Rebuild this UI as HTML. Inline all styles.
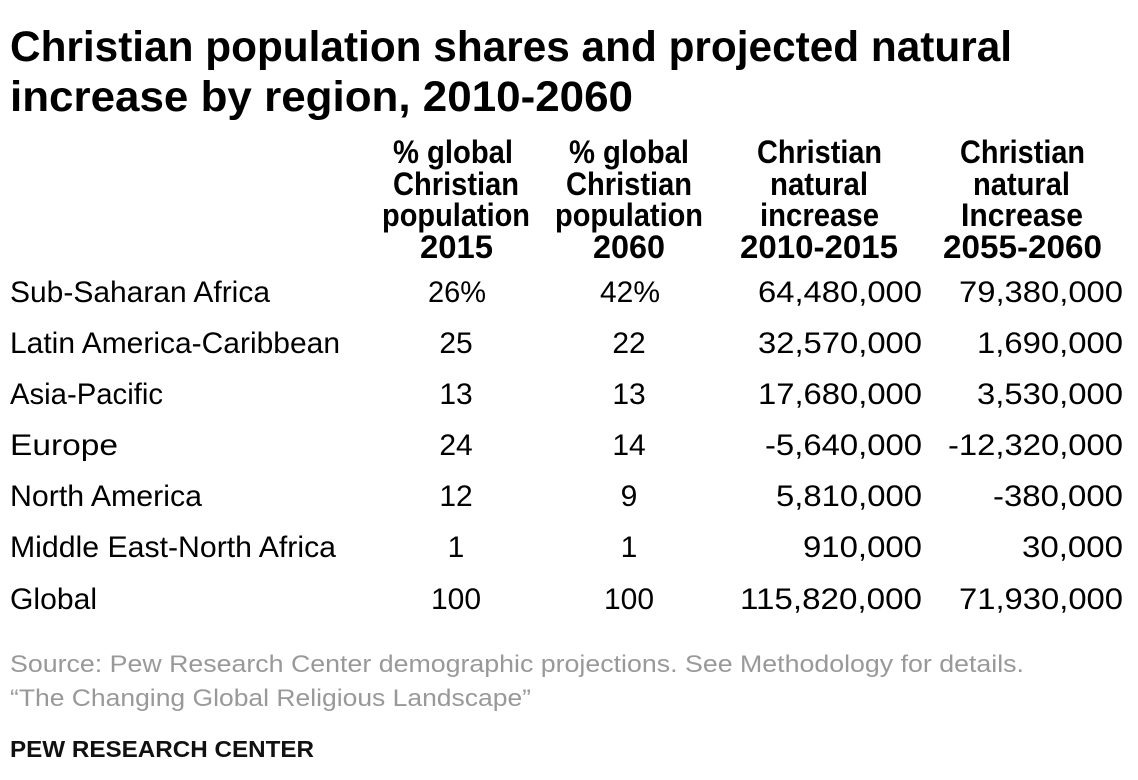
<!DOCTYPE html>
<html><head><meta charset="utf-8"><style>
html,body{margin:0;padding:0;background:#fff;}
svg{display:block;}
text{font-family:"Liberation Sans",Arial,sans-serif;fill:#000;}
.t{font-weight:bold;font-size:43px;}
.h{font-weight:bold;font-size:32px;}
.d{font-size:30px;}
.s{font-size:24px;fill:#999;}
.p{font-weight:bold;font-size:23px;fill:#111;}
</style></head><body>
<svg width="1138" height="780" viewBox="0 0 1138 780" xmlns="http://www.w3.org/2000/svg">
<text class="t" x="10" y="61" textLength="1002" lengthAdjust="spacingAndGlyphs">Christian population shares and projected natural</text>
<text class="t" x="10" y="111" textLength="623" lengthAdjust="spacingAndGlyphs">increase by region, 2010-2060</text>

<text class="h" x="393" y="163" textLength="120" lengthAdjust="spacingAndGlyphs">% global</text>
<text class="h" x="393" y="195" textLength="126" lengthAdjust="spacingAndGlyphs">Christian</text>
<text class="h" x="382" y="226" textLength="148" lengthAdjust="spacingAndGlyphs">population</text>
<text class="h" x="420" y="258" textLength="73" lengthAdjust="spacingAndGlyphs">2015</text>

<text class="h" x="569" y="163" textLength="120" lengthAdjust="spacingAndGlyphs">% global</text>
<text class="h" x="566" y="195" textLength="126" lengthAdjust="spacingAndGlyphs">Christian</text>
<text class="h" x="555" y="226" textLength="148" lengthAdjust="spacingAndGlyphs">population</text>
<text class="h" x="593" y="258" textLength="72" lengthAdjust="spacingAndGlyphs">2060</text>

<text class="h" x="757" y="163" textLength="125" lengthAdjust="spacingAndGlyphs">Christian</text>
<text class="h" x="770" y="195" textLength="98" lengthAdjust="spacingAndGlyphs">natural</text>
<text class="h" x="760" y="226" textLength="119" lengthAdjust="spacingAndGlyphs">increase</text>
<text class="h" x="740" y="258" textLength="158" lengthAdjust="spacingAndGlyphs">2010-2015</text>

<text class="h" x="960" y="163" textLength="125" lengthAdjust="spacingAndGlyphs">Christian</text>
<text class="h" x="973" y="195" textLength="97" lengthAdjust="spacingAndGlyphs">natural</text>
<text class="h" x="961" y="226" textLength="122" lengthAdjust="spacingAndGlyphs">Increase</text>
<text class="h" x="943" y="258" textLength="159" lengthAdjust="spacingAndGlyphs">2055-2060</text>

<text class="d" x="10" y="302" textLength="260" lengthAdjust="spacingAndGlyphs">Sub-Saharan Africa</text>
<text class="d" x="10" y="353" textLength="330" lengthAdjust="spacingAndGlyphs">Latin America-Caribbean</text>
<text class="d" x="10" y="404" textLength="153" lengthAdjust="spacingAndGlyphs">Asia-Pacific</text>
<text class="d" x="10" y="455" textLength="108" lengthAdjust="spacingAndGlyphs">Europe</text>
<text class="d" x="10" y="506" textLength="192" lengthAdjust="spacingAndGlyphs">North America</text>
<text class="d" x="10" y="557" textLength="326" lengthAdjust="spacingAndGlyphs">Middle East-North Africa</text>
<text class="d" x="10" y="609" textLength="87" lengthAdjust="spacingAndGlyphs">Global</text>

<g text-anchor="middle">
<text class="d" x="457" y="302" textLength="58" lengthAdjust="spacingAndGlyphs">26%</text><text class="d" x="630" y="302" textLength="60" lengthAdjust="spacingAndGlyphs">42%</text>
<text class="d" x="456" y="353">25</text><text class="d" x="629" y="353">22</text>
<text class="d" x="456" y="404">13</text><text class="d" x="629" y="404">13</text>
<text class="d" x="456" y="455">24</text><text class="d" x="629" y="455">14</text>
<text class="d" x="456" y="506">12</text><text class="d" x="629" y="506">9</text>
<text class="d" x="456" y="557">1</text><text class="d" x="629" y="557">1</text>
<text class="d" x="456" y="609">100</text><text class="d" x="629" y="609">100</text>
</g>

<g text-anchor="end">
<text class="d" x="922" y="302" textLength="164" lengthAdjust="spacingAndGlyphs">64,480,000</text>
<text class="d" x="922" y="353" textLength="164" lengthAdjust="spacingAndGlyphs">32,570,000</text>
<text class="d" x="922" y="404" textLength="164" lengthAdjust="spacingAndGlyphs">17,680,000</text>
<text class="d" x="922" y="455" textLength="157" lengthAdjust="spacingAndGlyphs">-5,640,000</text>
<text class="d" x="922" y="506" textLength="146" lengthAdjust="spacingAndGlyphs">5,810,000</text>
<text class="d" x="922" y="557" textLength="119" lengthAdjust="spacingAndGlyphs">910,000</text>
<text class="d" x="922" y="609" textLength="182" lengthAdjust="spacingAndGlyphs">115,820,000</text>

<text class="d" x="1123" y="302" textLength="164" lengthAdjust="spacingAndGlyphs">79,380,000</text>
<text class="d" x="1123" y="353" textLength="146" lengthAdjust="spacingAndGlyphs">1,690,000</text>
<text class="d" x="1123" y="404" textLength="146" lengthAdjust="spacingAndGlyphs">3,530,000</text>
<text class="d" x="1123" y="455" textLength="175" lengthAdjust="spacingAndGlyphs">-12,320,000</text>
<text class="d" x="1123" y="506" textLength="130" lengthAdjust="spacingAndGlyphs">-380,000</text>
<text class="d" x="1123" y="557" textLength="101" lengthAdjust="spacingAndGlyphs">30,000</text>
<text class="d" x="1123" y="609" textLength="164" lengthAdjust="spacingAndGlyphs">71,930,000</text>
</g>

<text class="s" x="10" y="672" textLength="1014" lengthAdjust="spacingAndGlyphs">Source: Pew Research Center demographic projections. See Methodology for details.</text>
<text class="s" x="10" y="706" textLength="521" lengthAdjust="spacingAndGlyphs">“The Changing Global Religious Landscape”</text>
<text class="p" x="10" y="757" textLength="304" lengthAdjust="spacingAndGlyphs">PEW RESEARCH CENTER</text>
</svg>
</body></html>
